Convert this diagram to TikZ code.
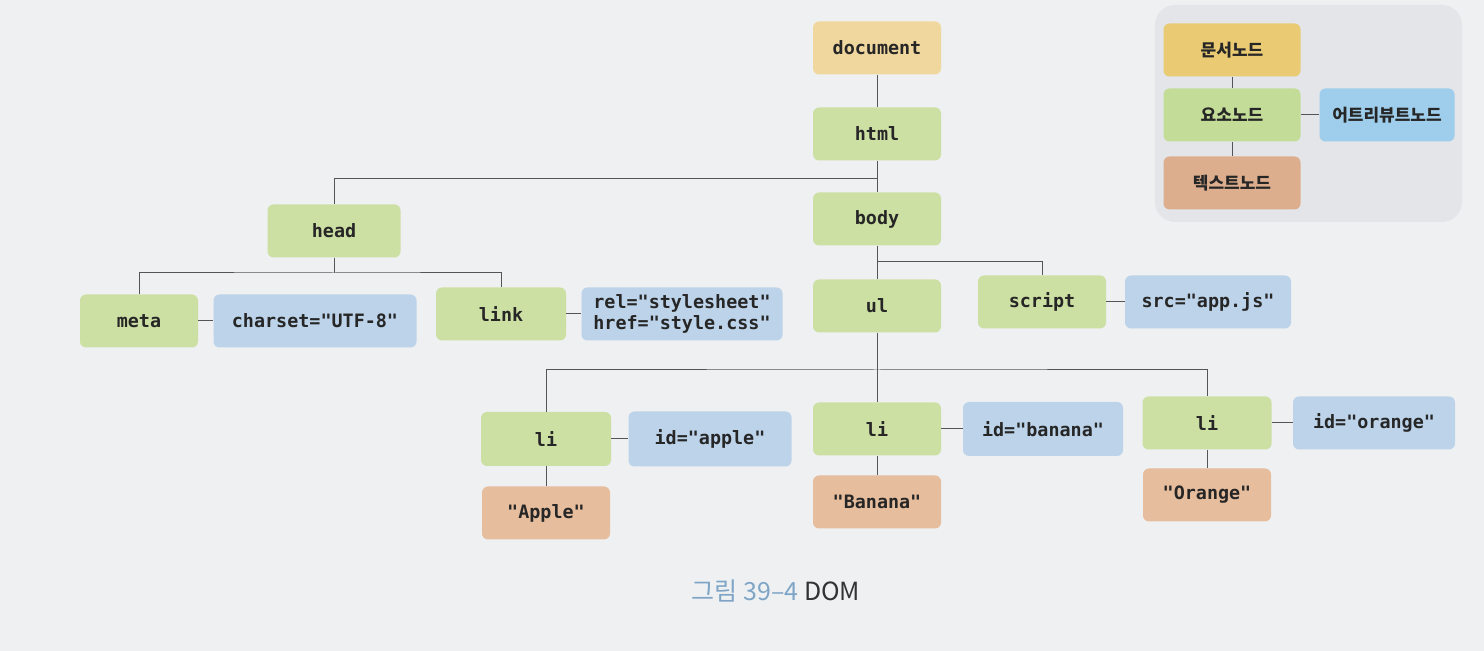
\documentclass[tikz,border=0pt]{standalone}
\usepackage{fontspec}
\setmainfont{Noto Sans CJK KR}
\newfontfamily\codefont{DejaVu Sans Mono}
\newfontfamily\krfont{Noto Sans CJK KR}
\definecolor{pagebg}{HTML}{EEF0F2}
\definecolor{legbg}{HTML}{E3E5E8}
\definecolor{cdoc}{HTML}{F0D79E}
\definecolor{celem}{HTML}{CDE0A4}
\definecolor{cattr}{HTML}{BCD3EA}
\definecolor{ctext}{HTML}{E6BD9D}
\definecolor{ldoc}{HTML}{EACB74}
\definecolor{lelem}{HTML}{C3DD98}
\definecolor{lattr}{HTML}{9ECEEC}
\definecolor{ltext}{HTML}{DDAE8E}
\definecolor{lnc}{HTML}{555555}
\definecolor{capblue}{HTML}{7FA5C6}
\tikzset{
  box/.style={rounded corners=3pt, minimum width=64pt, minimum height=26.5pt, inner sep=2pt, align=center,
    font=\codefont\bfseries\fontsize{9.2}{11}\selectfont, text=black!85},
  docbox/.style={box, fill=cdoc},
  elembox/.style={box, fill=celem},
  attrbox/.style={box, fill=cattr},
  textbox/.style={box, fill=ctext},
  legbox/.style={box, font=\krfont\bfseries\fontsize{8.5}{10}\selectfont, minimum width=68.5pt, minimum height=26.5pt},
  conn/.style={draw=lnc, line width=0.5pt},
}
\begin{document}
\begin{tikzpicture}[x=0.5pt,y=-0.5pt]
\useasboundingbox (0,0) rectangle (1484,651);
\fill[pagebg] (0,0) rectangle (1484,651);
% legend
\fill[legbg, rounded corners=10pt] (1155,5) rectangle (1462,222);
\node[legbox, fill=ldoc] (ldoc) at (1232,50) {문서노드};
\node[legbox, fill=lelem] (lelem) at (1232,115) {요소노드};
\node[legbox, fill=lattr, minimum width=67.5pt] (lattr) at (1387,115) {어트리뷰트노드};
\node[legbox, fill=ltext] (ltext) at (1232,183) {텍스트노드};
\draw[conn] (ldoc.south) -- (lelem.north);
\draw[conn] (lelem.south) -- (ltext.north);
\draw[conn] (lelem.east) -- (lattr.west);
% tree nodes
\node[docbox] (doc) at (877,48) {document};
\node[elembox] (html) at (877,134) {html};
\node[elembox] (body) at (877,219) {body};
\node[elembox, minimum width=66.5pt] (head) at (334,231) {head};
\node[elembox, minimum width=59pt] (meta) at (139,321) {meta};
\node[attrbox, minimum width=101.5pt] (charset) at (315,321) {charset="UTF-8"};
\node[elembox, minimum width=65pt] (link) at (501,314) {link};
\node[attrbox, minimum width=100.5pt, font=\codefont\bfseries\fontsize{9.2}{10.5}\selectfont] (relhref) at (682,314) {rel="stylesheet"\\href="style.css"};
\node[elembox] (ul) at (877,306) {ul};
\node[elembox] (script) at (1042,302) {script};
\node[attrbox, minimum width=83pt] (src) at (1208,302) {src="app.js"};
\node[elembox, minimum width=65pt, minimum height=27pt] (li1) at (546,439) {li};
\node[attrbox, minimum width=81.5pt, minimum height=27.5pt] (apple) at (710,439) {id="apple"};
\node[elembox] (li2) at (877,429) {li};
\node[attrbox, minimum width=80pt, minimum height=27pt] (banana) at (1043,429) {id="banana"};
\node[elembox, minimum width=64.5pt] (li3) at (1207,423) {li};
\node[attrbox, minimum width=81pt] (orange) at (1374,423) {id="orange"};
\node[textbox] (tapple) at (546,513) {"Apple"};
\node[textbox] (tbanana) at (877,502) {"Banana"};
\node[textbox] (torange) at (1207,495) {"Orange"};
% bus coordinates
\coordinate (b1) at (877,179);
\coordinate (b2) at (334,273);
\coordinate (b3) at (877,262);
\coordinate (b4) at (877,370);
% connectors
\draw[conn] (doc.south) -- (html.north);
\draw[conn] (html.south) -- (body.north);
\draw[conn] (head.north) |- (b1);
\draw[conn] (head.south) -- (b2);
\draw[conn] (meta.north) |- (b2) -| (link.north);
\draw[conn] (meta.east) -- (charset.west);
\draw[conn] (link.east) -- (relhref.west);
\draw[conn] (body.south) -- (ul.north);
\draw[conn] (b3) -| (script.north);
\draw[conn] (script.east) -- (src.west);
\draw[conn] (ul.south) -- (b4);
\draw[conn] (li1.north) |- (b4) -| (li3.north);
\draw[conn] (b4) -- (li2.north);
\draw[conn] (li1.east) -- (apple.west);
\draw[conn] (li2.east) -- (banana.west);
\draw[conn] (li3.east) -- (orange.west);
\draw[conn] (li1.south) -- (tapple.north);
\draw[conn] (li2.south) -- (tbanana.north);
\draw[conn] (li3.south) -- (torange.north);
% caption
\node[font=\krfont\fontsize{12.5}{14}\selectfont, inner sep=0pt] (cap) at (776,591) {\textcolor{capblue}{그림 39–4} \textcolor{black!80}{DOM}};
\end{tikzpicture}
\end{document}
